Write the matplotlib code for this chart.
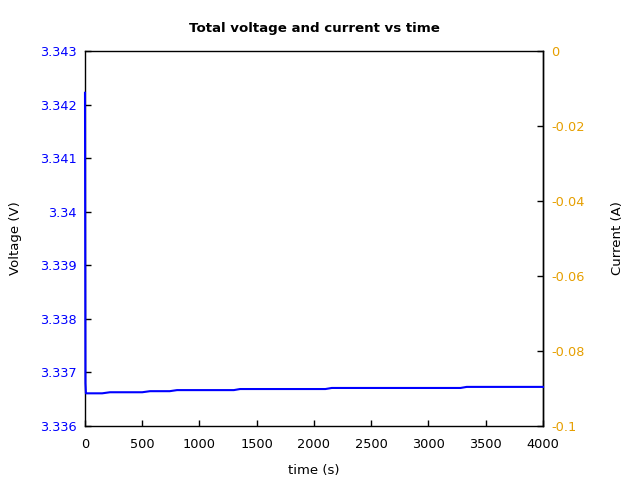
import matplotlib
matplotlib.use("Agg")
import matplotlib.pyplot as plt
from matplotlib.ticker import FuncFormatter

# voltage trace
time_s = [0, 4, 8, 150, 218, 500, 568, 740, 804, 1300, 1354, 2100, 2155, 3280, 3334, 4000]
voltage_v = [3.34222, 3.3368, 3.33661, 3.33661, 3.33663, 3.33663, 3.33665, 3.33665, 3.33667,
             3.33667, 3.33669, 3.33669, 3.33671, 3.33671, 3.33673, 3.33673]

volt_ticks = [3.336, 3.337, 3.338, 3.339, 3.340, 3.341, 3.342, 3.343]
curr_ticks = [0, -0.02, -0.04, -0.06, -0.08, -0.1]
time_ticks = [0, 500, 1000, 1500, 2000, 2500, 3000, 3500, 4000]

BLUE = "#0000ff"
ORANGE = "#e69f00"

fmt = FuncFormatter(lambda v, pos: "%g" % round(v, 6))

fig = plt.figure(figsize=(6.4, 4.8), dpi=100)
ax = fig.add_axes([0.1328, 0.1125, 0.7156, 0.78125])
ax.set_xlim(0, 4000)
ax.set_ylim(3.336, 3.343)
ax.set_xticks(time_ticks)
ax.set_yticks(volt_ticks)
ax.xaxis.set_major_formatter(fmt)
ax.yaxis.set_major_formatter(fmt)
ax.tick_params(direction="in", length=4, width=1, labelsize=9.3, pad=6)
ax.tick_params(axis="x", pad=9)
ax.tick_params(axis="y", labelcolor=BLUE)
ax.set_xlabel("time (s)", fontsize=9.5, labelpad=9)
ax.set_ylabel("Voltage (V)", fontsize=9.5, labelpad=13)
ax.set_title("Total voltage and current vs time", fontsize=9.6, fontweight="bold", pad=14)

ax2 = ax.twinx()
ax2.set_ylim(-0.1, 0)
ax2.set_yticks(curr_ticks)
ax2.yaxis.set_major_formatter(fmt)
ax2.tick_params(direction="in", length=4, width=1, labelsize=9.3, pad=6, labelcolor=ORANGE)
ax2.set_ylabel("Current (A)", fontsize=9.5, labelpad=19)
for side in ("left", "top", "bottom"):
    ax2.spines[side].set_visible(False)

# keep the voltage axes on top so the trace covers the left frame line
ax.set_zorder(ax2.get_zorder() + 1)
ax.patch.set_visible(False)
ax.plot(time_s, voltage_v, color=BLUE, lw=1.5, zorder=3, clip_on=False)

for a in (ax, ax2):
    for s in a.spines.values():
        s.set_linewidth(1.0)

fig.savefig("out.png", dpi=100)
